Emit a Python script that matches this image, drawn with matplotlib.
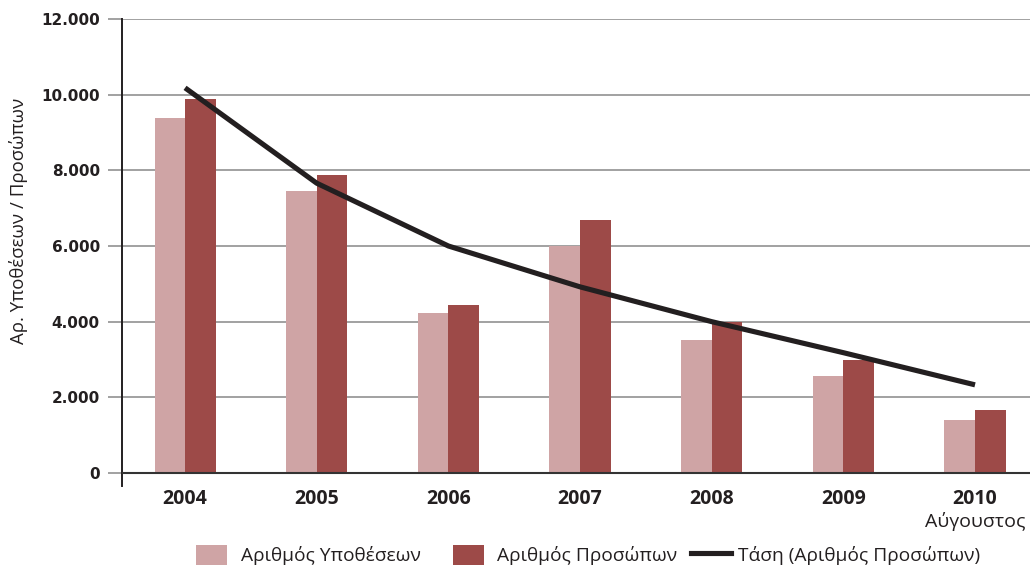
import matplotlib
matplotlib.use("Agg")
import matplotlib.pyplot as plt
from matplotlib.patches import Patch
from matplotlib.lines import Line2D
import numpy as np

years = ["2004", "2005", "2006", "2007", "2008", "2009", "2010"]
cases = [9380, 7450, 4230, 6000, 3520, 2560, 1400]        # Αριθμός Υποθέσεων
persons = [9890, 7880, 4440, 6690, 3990, 2990, 1670]      # Αριθμός Προσώπων
trend = [10180, 7660, 6000, 4920, 4000, 3180, 2330]       # Τάση (Αριθμός Προσώπων)
yticks = [0, 2000, 4000, 6000, 8000, 10000, 12000]

c_light = "#cfa4a5"
c_dark = "#9d4a48"
c_line = "#231f20"
txt_font = ["Open Sans", "DejaVu Sans"]

fig = plt.figure(figsize=(10.30, 5.66), dpi=100)
ax = fig.add_axes([122/1030, 1-486/566, 1-122/1030, (486-19)/566])

x = np.arange(len(years))
w = 0.232
ax.bar(x - w/2, cases, width=w, color=c_light, zorder=3)
ax.bar(x + w/2, persons, width=w, color=c_dark, zorder=3)
ax.plot(x, trend, color=c_line, lw=3.7, zorder=4, solid_capstyle="butt")

ax.set_xlim(-0.479, (1030-185)/131.67)
ax.set_ylim(-344, 12000)

ax.set_yticks(yticks)
ax.set_yticklabels([f"{v:,}".replace(",", ".") for v in yticks],
                   fontweight="bold", fontsize=11, family="DejaVu Sans", color="#231f20")
ax.tick_params(axis="y", length=10, width=1.3, color="#9a9a9a", pad=6)
for t in ax.yaxis.get_major_ticks():
    if t.get_loc() == 0:
        t.tick1line.set_color("#333333")
ax.set_xticks(x)
ax.set_xticklabels(years, fontweight="bold", fontsize=14, family=txt_font, color="#231f20")
ax.tick_params(axis="x", length=0, pad=2)

for v in yticks[1:]:
    ax.axhline(v, color="#9a9a9a", lw=1.3, zorder=1)
ax.axhline(0, color="#333333", lw=1.5, zorder=5)

for s in ["top", "right", "bottom"]:
    ax.spines[s].set_visible(False)
ax.spines["left"].set_color("#231f20")
ax.spines["left"].set_linewidth(1.4)

ax.text(6, (486-527)/467, "Αύγουστος", transform=ax.get_xaxis_transform(),
        ha="center", va="baseline", fontsize=14, family=txt_font, color="#231f20")

fig.text(19/1030, 1-221/566, "Αρ. Υποθέσεων / Προσώπων", rotation=90,
         ha="center", va="center", fontsize=13.4, family=txt_font, color="#231f20")

ly = 1 - 555/566
fs = 13.8
entries = [
    (196, Patch(facecolor=c_light), "Αριθμός Υποθέσεων", 1.61, 0.75),
    (453, Patch(facecolor=c_dark), "Αριθμός Προσώπων", 1.61, 0.68),
    (691, Line2D([], [], color=c_line, lw=3.7), "Τάση (Αριθμός Προσώπων)", 2.08, 0.36),
]
for px, h, lab, hl, tp in entries:
    lg = fig.legend([h], [lab], loc="center left", bbox_to_anchor=(px/1030, ly),
                    frameon=False, borderpad=0, borderaxespad=0, handlelength=hl,
                    handleheight=1.3, handletextpad=tp,
                    prop={"family": txt_font, "size": fs})
    for t in lg.get_texts():
        t.set_color("#231f20")

fig.savefig("out.png", dpi=100)
